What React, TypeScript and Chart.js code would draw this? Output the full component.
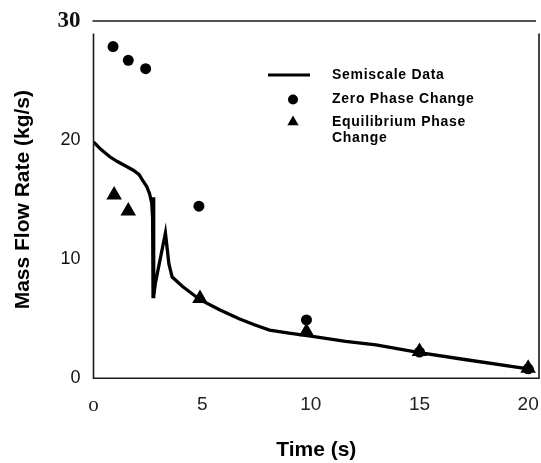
import React, { useEffect, useRef } from 'react';
import { Chart, registerables } from 'chart.js';

Chart.register(...registerables);

const semiscaleTime = [0, 0.35, 0.75, 1.1, 1.5, 1.85, 2.1, 2.27, 2.45, 2.58, 2.68, 2.72, 2.74, 2.76, 2.78, 2.85, 3.31, 3.47, 3.62, 4.1, 4.9, 5.8, 6.7, 7.4, 8.1, 9, 10, 11.6, 13, 15, 17, 20];
const semiscaleFlow = [19.85, 19.2, 18.6, 18.2, 17.8, 17.45, 17.1, 16.6, 16.1, 15.5, 14.7, 13.5, 6.85, 15.2, 6.9, 8.0, 12.2, 9.6, 8.5, 7.7, 6.6, 5.75, 5.0, 4.5, 4.05, 3.8, 3.55, 3.1, 2.8, 2.15, 1.6, 0.8];

const zeroTime = [0.9, 1.6, 2.4, 4.85, 9.8, 15, 20];
const zeroFlow = [27.85, 26.7, 26.0, 14.45, 4.9, 2.2, 0.8];

const eqTime = [0.95, 1.6, 4.9, 9.8, 15, 20];
const eqFlow = [15.4, 14.05, 6.7, 3.9, 2.25, 0.85];

const xTickValues = [0, 5, 10, 15, 20];
const xTickLabels = ['o', '5', '10', '15', '20'];
const yTickValues = [0, 10, 20, 30];
const yTickLabels = ['0', '10', '20', '30'];

const legendLabels = ['Semiscale Data', 'Zero Phase Change', 'Equilibrium Phase', 'Change'];

const toPoints = (xs: number[], ys: number[]) => xs.map((x, i) => ({ x, y: ys[i] }));

const framePlugin = {
  id: 'frameAndLegend',
  afterDraw(chart: any) {
    const ctx = chart.ctx;
    const { left, right, bottom } = chart.chartArea;
    const yTop = chart.scales.y.getPixelForValue(30);
    ctx.save();
    ctx.strokeStyle = '#1a1a1a';
    ctx.lineWidth = 1.6;
    ctx.beginPath();
    ctx.moveTo(left - 1, yTop);
    ctx.lineTo(right - 3, yTop);
    ctx.moveTo(left, yTop + 12.5);
    ctx.lineTo(left, bottom);
    ctx.lineTo(right, bottom);
    ctx.lineTo(right, yTop + 12.5);
    ctx.stroke();

    const lx0 = 268;
    const lx1 = 310;
    const mx = 293;
    const tx = 332;
    const rows = [75, 99.5, 122, 138.5];
    ctx.fillStyle = '#000';
    ctx.strokeStyle = '#000';
    ctx.lineWidth = 3;
    ctx.beginPath();
    ctx.moveTo(lx0, rows[0]);
    ctx.lineTo(lx1, rows[0]);
    ctx.stroke();
    ctx.beginPath();
    ctx.arc(mx, rows[1], 5, 0, Math.PI * 2);
    ctx.fill();
    const r = 6.5;
    ctx.beginPath();
    ctx.moveTo(mx, rows[2] - r);
    ctx.lineTo(mx + r * 0.866, rows[2] + r * 0.5);
    ctx.lineTo(mx - r * 0.866, rows[2] + r * 0.5);
    ctx.closePath();
    ctx.fill();

    ctx.font = 'bold 14px "Liberation Sans", Arial, sans-serif';
    (ctx as any).letterSpacing = '0.7px';
    ctx.textBaseline = 'middle';
    ctx.textAlign = 'left';
    legendLabels.forEach((t, i) => ctx.fillText(t, tx, rows[i]));
    ctx.restore();
  },
};

export default function App() {
  const ref = useRef<HTMLCanvasElement | null>(null);

  useEffect(() => {
    if (!ref.current) return;
    const chart = new Chart(ref.current, {
      type: 'scatter',
      data: {
        datasets: [
          {
            label: 'Zero Phase Change',
            data: toPoints(zeroTime, zeroFlow),
            pointStyle: 'circle',
            pointRadius: 5.5,
            backgroundColor: '#000',
            borderColor: '#000',
            borderWidth: 0,
            showLine: false,
            order: 1,
          },
          {
            label: 'Equilibrium Phase Change',
            data: toPoints(eqTime, eqFlow),
            pointStyle: 'triangle',
            pointRadius: 9,
            backgroundColor: '#000',
            borderColor: '#000',
            borderWidth: 0,
            showLine: false,
            order: 1,
          },
          {
            label: 'Semiscale Data',
            data: toPoints(semiscaleTime, semiscaleFlow),
            showLine: true,
            pointRadius: 0,
            borderColor: '#000',
            backgroundColor: '#000',
            borderWidth: 3.3,
            tension: 0,
            order: 2,
          },
        ],
      },
      options: {
        animation: false,
        responsive: true,
        maintainAspectRatio: false,
        layout: { autoPadding: false, padding: { top: 21, right: 2, bottom: 0, left: 0 } },
        plugins: {
          legend: { display: false },
          tooltip: { enabled: false },
        },
        scales: {
          x: {
            type: 'linear',
            min: 0,
            max: 20.5,
            grid: { display: false, drawTicks: false },
            border: { display: false },
            afterBuildTicks: (scale: any) => {
              scale.ticks = xTickValues.map((v) => ({ value: v }));
            },
            afterFit: (scale: any) => {
              scale.height = 84.7;
              scale.paddingLeft = 0;
              scale.paddingRight = 0;
            },
            ticks: {
              padding: 15,
              color: '#222',
              maxRotation: 0,
              callback: (v: any) => {
                const i = xTickValues.indexOf(Number(v));
                return i >= 0 ? xTickLabels[i] : '';
              },
              font: (c: any) =>
                c.tick && c.tick.value === 0
                  ? { family: '"Liberation Serif", serif', size: 21 }
                  : { family: '"Liberation Sans", Arial, sans-serif', size: 19 },
            },
            title: {
              display: true,
              text: 'Time (s)',
              color: '#000',
              font: { family: '"Liberation Sans", Arial, sans-serif', size: 21, weight: 'bold' },
              padding: { top: 0, bottom: 0 },
            },
          },
          y: {
            type: 'linear',
            min: 0,
            max: 30,
            grid: { display: false, drawTicks: false },
            border: { display: false },
            afterBuildTicks: (scale: any) => {
              scale.ticks = yTickValues.map((v) => ({ value: v }));
            },
            afterFit: (scale: any) => {
              scale.width = 93.5;
              scale.paddingTop = 0;
              scale.paddingBottom = 0;
            },
            ticks: {
              padding: 13,
              color: '#111',
              callback: (v: any) => {
                const i = yTickValues.indexOf(Number(v));
                return i >= 0 ? yTickLabels[i] : '';
              },
              font: (c: any) =>
                c.tick && c.tick.value === 30
                  ? { family: '"Liberation Serif", serif', size: 23, weight: 'bold' }
                  : { family: '"Liberation Sans", Arial, sans-serif', size: 18 },
            },
            title: {
              display: true,
              text: 'Mass Flow Rate (kg/s)',
              color: '#000',
              font: { family: '"Liberation Sans", Arial, sans-serif', size: 21, weight: 'bold' },
              padding: { top: 11, bottom: 0 },
            },
          },
        },
      },
      plugins: [framePlugin],
    });
    return () => chart.destroy();
  }, []);

  return (
    <div style={{ position: 'fixed', left: 0, top: 0, width: 541, height: 463, background: '#fff' }}>
      <canvas ref={ref} />
    </div>
  );
}
